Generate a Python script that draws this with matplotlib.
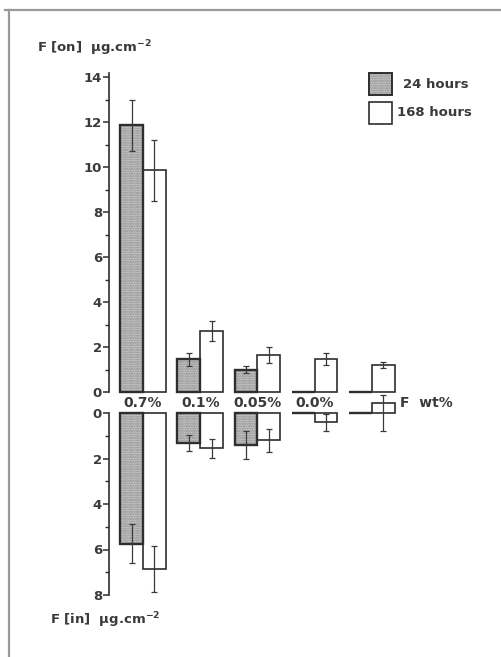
import matplotlib
matplotlib.use("Agg")
import matplotlib.pyplot as plt
from matplotlib.patches import Rectangle
from matplotlib.lines import Line2D
import numpy as np

# ---- data ----
categories = ['0.7%', '0.1%', '0.05%', '0.0%', '']
on_24 = [11.85, 1.45, 1.0, 0.0, 0.0]
on_24_err = [1.15, 0.28, 0.15, 0.0, 0.0]
on_168 = [9.85, 2.7, 1.63, 1.45, 1.2]
on_168_err = [1.35, 0.45, 0.35, 0.27, 0.13]
in_24 = [5.75, 1.3, 1.4, 0.0, 0.0]
in_24_err = [0.85, 0.35, 0.6, 0.0, 0.0]
in_168 = [6.85, 1.55, 1.2, 0.4, -0.45]
in_168_err_up = [1.0, 0.42, 0.5, 0.37, 0.35]     # toward smaller values
in_168_err_down = [1.0, 0.42, 0.5, 0.37, 1.23]   # toward larger values
top_ticks = [0, 2, 4, 6, 8, 10, 12, 14]
bottom_ticks = [0, 2, 4, 6, 8]

W, H = 501, 657
fig = plt.figure(figsize=(W / 100, H / 100), dpi=100)
plt.rcParams['font.family'] = ['DejaVu Sans']
plt.rcParams['hatch.linewidth'] = 1.1

dark = '#2e2e2e'
txt = '#3a3a3a'
gray_fill = '#d0d0d0'
hatch_col = '#858585'

def px_axes(x0, y_top, x1, y_bot):
    return fig.add_axes([x0 / W, 1 - y_bot / H, (x1 - x0) / W, (y_bot - y_top) / H])

# x mapping: group centers at 0..4, group 0 center at px 143, spacing 57.2
gx0, gsp = 143.0, 57.2
axL, axR = 109.0, 490.0
xlim = ((axL - gx0) / gsp, (axR - gx0) / gsp)

# top axes: y=0 at px 392, 22.5 px/unit
y0_top, s_top = 392.0, 22.5
ytop_max = 14.2
ax_t = px_axes(axL, y0_top - ytop_max * s_top, axR, y0_top)
ax_t.set_xlim(*xlim)
ax_t.set_ylim(0, ytop_max)

# bottom axes: y=0 at px 413, 22.75 px/unit, inverted
y0_bot, s_bot = 413.0, 22.75
ybot_min, ybot_max = -1.0, 8.0
ax_b = px_axes(axL, y0_bot + ybot_min * s_bot, axR, y0_bot + ybot_max * s_bot)
ax_b.set_xlim(*xlim)
ax_b.set_ylim(ybot_max, ybot_min)

x = np.arange(len(categories))
bw = 0.40

for ax, v24, e24, v168, elo, ehi in [
        (ax_t, on_24, on_24_err, on_168, on_168_err, on_168_err),
        (ax_b, in_24, in_24_err, in_168, in_168_err_up, in_168_err_down)]:
    ax.patch.set_alpha(0)
    # stippled fill, then outline
    ax.bar(x - bw / 2, v24, width=bw, facecolor=gray_fill, edgecolor=hatch_col,
           hatch='.......', linewidth=0, zorder=2, clip_on=False)
    ax.bar(x - bw / 2, v24, width=bw, facecolor='none', edgecolor=dark,
           linewidth=1.7, zorder=2.1, clip_on=False)
    ax.bar(x + bw / 2, v168, width=bw, facecolor='white', edgecolor=dark,
           linewidth=1.2, zorder=2, clip_on=False)
    m = np.array(e24) > 0
    ax.errorbar((x - bw / 2)[m], np.array(v24)[m], yerr=np.array(e24)[m], fmt='none',
                ecolor='#3a3a3a', elinewidth=0.9, capsize=2.2, capthick=0.9,
                zorder=3, clip_on=False)
    if ax is ax_t:
        yerr = np.array(elo)
    else:
        yerr = np.array([elo, ehi])
    ax.errorbar(x + bw / 2, v168, yerr=yerr, fmt='none',
                ecolor='#3a3a3a', elinewidth=0.9, capsize=2.2, capthick=0.9,
                zorder=3, clip_on=False)
    for s in ['top', 'right', 'bottom']:
        ax.spines[s].set_visible(False)
    ax.spines['left'].set_color(dark)
    ax.spines['left'].set_linewidth(1.2)
    ax.set_xticks([])
    ax.tick_params(axis='y', which='major', direction='out', length=4, width=1.1,
                   color=dark, labelsize=9.5, labelcolor=txt, pad=1.0)
    ax.tick_params(axis='y', which='minor', direction='out', length=3, width=1.0,
                   color=dark)

ax_t.set_yticks(top_ticks)
ax_t.set_yticks(np.arange(1, 14, 2), minor=True)
ax_t.spines['left'].set_bounds(0, 14.2)
ax_b.set_yticks(bottom_ticks)
ax_b.set_yticks(np.arange(1, 8, 2), minor=True)
ax_b.spines['left'].set_bounds(0, 8)
for ax in (ax_t, ax_b):
    for lab in ax.get_yticklabels():
        lab.set_fontweight('bold')

# category labels between the panels
for xi, c in zip(x, categories):
    if c:
        ax_t.text(xi, -0.47, c, ha='center', va='center', fontsize=10,
                  fontweight='bold', color=txt, clip_on=False)
ax_t.text(4.49, -0.47, 'F  wt%', ha='left', va='center', fontsize=10,
          fontweight='bold', color=txt, clip_on=False)

# axis titles
fig.text(37 / W, 1 - 48 / H, r'F [on]  μg.cm$^{\mathbf{-2}}$', ha='left', va='center',
         fontsize=9.5, fontweight='bold', color=txt)
fig.text(50 / W, 1 - 620 / H, r'F [in]  μg.cm$^{\mathbf{-2}}$', ha='left', va='center',
         fontsize=9.5, fontweight='bold', color=txt)

# legend
fig.patches.append(Rectangle((369 / W, 1 - 95 / H), 23 / W, 22 / H, transform=fig.transFigure,
                             facecolor=gray_fill, edgecolor=hatch_col, hatch='.......', linewidth=0))
fig.patches.append(Rectangle((369 / W, 1 - 95 / H), 23 / W, 22 / H, transform=fig.transFigure,
                             facecolor='none', edgecolor=dark, linewidth=1.4))
fig.patches.append(Rectangle((369 / W, 1 - 124 / H), 23 / W, 22 / H, transform=fig.transFigure,
                             facecolor='white', edgecolor=dark, linewidth=1.2))
fig.text(403 / W, 1 - 85 / H, '24 hours', ha='left', va='center', fontsize=9.5,
         fontweight='bold', color=txt)
fig.text(397 / W, 1 - 113 / H, '168 hours', ha='left', va='center', fontsize=9.5,
         fontweight='bold', color=txt)

# scan border
fig.lines.append(Line2D([5 / W, 1.0], [1 - 10 / H, 1 - 10 / H], transform=fig.transFigure,
                        color='#9a9a9a', linewidth=1.6))
fig.lines.append(Line2D([9 / W, 9 / W], [1 - 10 / H, 0.0], transform=fig.transFigure,
                        color='#9a9a9a', linewidth=1.6))

fig.savefig('out.png', dpi=100)
